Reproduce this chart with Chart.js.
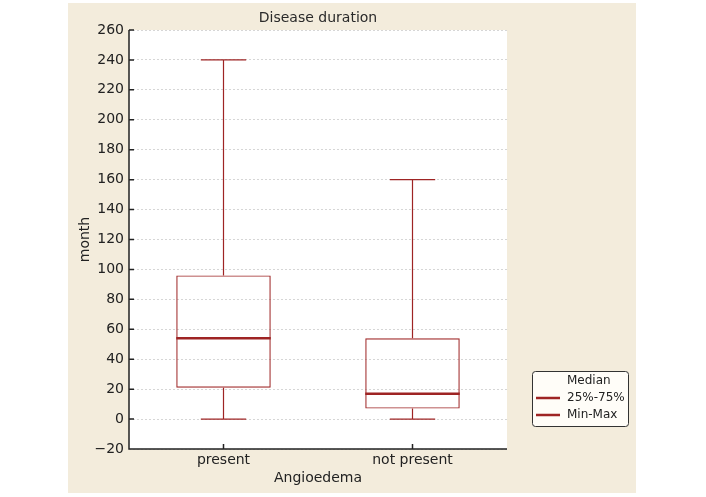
<!DOCTYPE html>
<html>
<head>
<meta charset="utf-8">
<script src="https://cdn.jsdelivr.net/npm/chart.js@4.4.1/dist/chart.umd.min.js"></script>
<style>
  html, body { margin: 0; padding: 0; background: #ffffff; }
  #wrap { width: 706px; height: 497px; }
</style>
</head>
<body>
<div id="wrap"><canvas id="chart" width="706" height="497"></canvas></div>
<script>
// categories and box statistics (months)
const categories = ["present", "not present"];
const minValues = [0, 0];
const q1Values = [21, 7];
const medianValues = [54, 17];
const q3Values = [96, 54];
const maxValues = [240, 160];
const yTicks = [-20, 0, 20, 40, 60, 80, 100, 120, 140, 160, 180, 200, 220, 240, 260];
const legendLabels = ["Median", "25%-75%", "Min-Max"];
const chartTitle = "Disease duration";

const boxColor = "#9e2424";
const fontFamily = "'DejaVu Sans', sans-serif";

// background panel, title, whiskers, median, inward ticks and the legend
const boxPlotPlugin = {
  id: "boxPlot",
  beforeDraw(chart) {
    const ctx = chart.ctx;
    const a = chart.chartArea;
    ctx.save();
    ctx.fillStyle = "#f3ecdc";
    ctx.fillRect(68, 3, 568, 490);
    ctx.fillStyle = "#ffffff";
    ctx.fillRect(a.left, a.top, a.right - a.left, a.bottom - a.top);
    ctx.fillStyle = "#2a2a2a";
    ctx.font = "14px " + fontFamily;
    ctx.textAlign = "center";
    ctx.textBaseline = "middle";
    ctx.fillText(chartTitle, (a.left + a.right) / 2, 18);
    ctx.restore();
  },
  afterDatasetsDraw(chart) {
    const ctx = chart.ctx;
    const x = chart.scales.x;
    const y = chart.scales.y;
    const catWidth = (x.right - x.left) / categories.length;
    const capHalf = catWidth * 0.12;
    const boxHalf = catWidth * 0.25;
    ctx.save();
    ctx.strokeStyle = boxColor;
    categories.forEach((c, i) => {
      const cx = x.getPixelForValue(i);
      ctx.lineWidth = 1.2;
      ctx.beginPath();
      // upper whisker
      ctx.moveTo(cx, y.getPixelForValue(q3Values[i]));
      ctx.lineTo(cx, y.getPixelForValue(maxValues[i]));
      ctx.moveTo(cx - capHalf, y.getPixelForValue(maxValues[i]));
      ctx.lineTo(cx + capHalf, y.getPixelForValue(maxValues[i]));
      // lower whisker
      ctx.moveTo(cx, y.getPixelForValue(q1Values[i]));
      ctx.lineTo(cx, y.getPixelForValue(minValues[i]));
      ctx.moveTo(cx - capHalf, y.getPixelForValue(minValues[i]));
      ctx.lineTo(cx + capHalf, y.getPixelForValue(minValues[i]));
      ctx.stroke();
      // median
      ctx.lineWidth = 2.5;
      ctx.beginPath();
      ctx.moveTo(cx - boxHalf, y.getPixelForValue(medianValues[i]));
      ctx.lineTo(cx + boxHalf, y.getPixelForValue(medianValues[i]));
      ctx.stroke();
    });

    // axes lines and inward ticks
    const a = chart.chartArea;
    ctx.strokeStyle = "#222222";
    ctx.lineWidth = 1.5;
    ctx.beginPath();
    ctx.moveTo(a.left, a.top);
    ctx.lineTo(a.left, a.bottom);
    ctx.lineTo(a.right, a.bottom);
    yTicks.forEach(v => {
      const py = y.getPixelForValue(v);
      ctx.moveTo(a.left, py);
      ctx.lineTo(a.left + 5, py);
    });
    categories.forEach((c, i) => {
      const px = x.getPixelForValue(i);
      ctx.moveTo(px, a.bottom);
      ctx.lineTo(px, a.bottom - 5);
    });
    ctx.stroke();

    // legend
    const lx = 532, ly = 371, lw = 96, lh = 55;
    ctx.fillStyle = "#fffdf8";
    ctx.strokeStyle = "#333333";
    ctx.lineWidth = 1;
    ctx.beginPath();
    ctx.roundRect(lx + 0.5, ly + 0.5, lw, lh, 3);
    ctx.fill();
    ctx.stroke();
    ctx.font = "12px " + fontFamily;
    ctx.textBaseline = "middle";
    ctx.fillStyle = "#222222";
    legendLabels.forEach((t, i) => {
      const ry = ly + 10 + i * 17;
      ctx.fillText(t, lx + 35, ry);
      if (i > 0) {
        ctx.strokeStyle = boxColor;
        ctx.lineWidth = 2.5;
        ctx.beginPath();
        ctx.moveTo(lx + 4, ry);
        ctx.lineTo(lx + 28, ry);
        ctx.stroke();
      }
    });
    ctx.restore();
  }
};

new Chart(document.getElementById("chart"), {
  type: "bar",
  plugins: [boxPlotPlugin],
  data: {
    labels: categories,
    datasets: [{
      label: "25%-75%",
      data: q1Values.map((q, i) => [q, q3Values[i]]),
      backgroundColor: "rgba(255,255,255,0)",
      borderColor: boxColor,
      borderWidth: 1.2,
      borderSkipped: false,
      categoryPercentage: 1,
      barPercentage: 0.5
    }]
  },
  options: {
    responsive: false,
    animation: false,
    layout: { padding: { left: 68, right: 199, top: 30, bottom: 0 } },
    plugins: {
      legend: { display: false },
      tooltip: { enabled: false },
      title: { display: false }
    },
    scales: {
      x: {
        grid: { display: false, drawTicks: false },
        border: { display: false },
        ticks: { color: "#222222", padding: 3, font: { family: fontFamily, size: 14 } },
        title: {
          display: true,
          text: "Angioedema",
          color: "#222222",
          padding: { top: 2, bottom: 10 },
          font: { family: fontFamily, size: 14 }
        },
        afterFit: s => { s.height = 48; }
      },
      y: {
        min: -20,
        max: 260,
        afterBuildTicks: s => { s.ticks = yTicks.map(v => ({ value: v })); },
        grid: { color: "#cccccc", drawTicks: false, lineWidth: 0.8 },
        border: { display: false, dash: [2, 2] },
        ticks: {
          color: "#222222",
          padding: 5,
          font: { family: fontFamily, size: 14 },
          callback: v => v < 0 ? "\u2212" + Math.abs(v) : v
        },
        title: {
          display: true,
          text: "month",
          color: "#222222",
          padding: { top: 9, bottom: 0 },
          font: { family: fontFamily, size: 14 }
        },
        afterFit: s => { s.width = 61; }
      }
    }
  }
});
</script>
</body>
</html>
